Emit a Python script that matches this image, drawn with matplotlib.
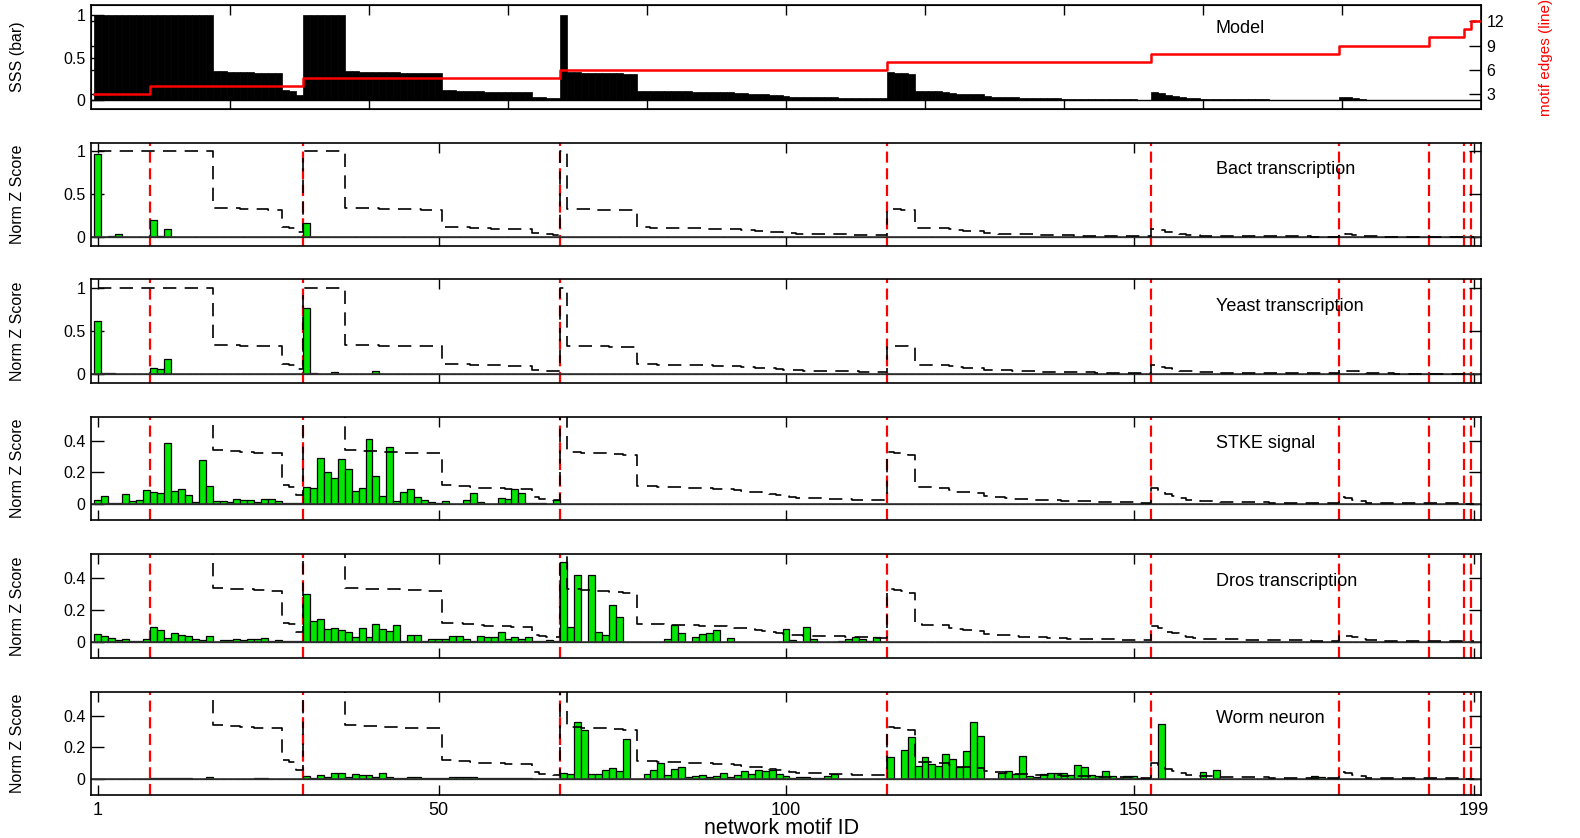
import matplotlib
matplotlib.use('Agg')
import matplotlib.pyplot as plt
from matplotlib import font_manager
import numpy as np

plt.rcParams['font.family'] = ['Liberation Sans', 'DejaVu Sans']
names = {f.name for f in font_manager.fontManager.ttflist}
narrow = 'Liberation Sans Narrow' if 'Liberation Sans Narrow' in names else 'Liberation Sans'

# ---- data ----
motif_ids = np.arange(1, 200)
edge_levels = [3, 4, 5, 6, 7, 8, 9, 10, 11, 12]
edge_counts = [8, 22, 37, 47, 38, 27, 13, 5, 1, 1]

# model SSS per motif
sss_model = ([1.0] * 17
             + [0.34, 0.34, 0.335, 0.335, 0.33, 0.33, 0.325, 0.325, 0.32, 0.32]
             + [0.12, 0.11, 0.06]
             + [1.0] * 6
             + [0.34, 0.34, 0.335, 0.335, 0.335, 0.33, 0.33, 0.33, 0.325, 0.325, 0.325, 0.32, 0.32, 0.32]
             + [0.12, 0.118, 0.116, 0.114, 0.11, 0.105, 0.102, 0.1, 0.1, 0.098, 0.096, 0.095, 0.093,
                0.045, 0.035, 0.033, 0.03]
             + [1.0]
             + [0.33, 0.33, 0.325, 0.325, 0.32, 0.32, 0.315, 0.315, 0.31, 0.31]
             + [0.115, 0.113, 0.112, 0.11, 0.108, 0.107, 0.106, 0.105, 0.104, 0.102, 0.1, 0.098,
                0.097, 0.095, 0.09, 0.085, 0.08, 0.075, 0.07, 0.065, 0.058, 0.05, 0.045, 0.042,
                0.04, 0.038, 0.037, 0.036, 0.035, 0.034, 0.032, 0.03, 0.029, 0.028, 0.027, 0.026]
             + [0.33, 0.325, 0.32, 0.31]
             + [0.11, 0.108, 0.106, 0.105, 0.104, 0.09, 0.08, 0.075, 0.073, 0.07, 0.05, 0.045,
                0.043, 0.042, 0.035, 0.033, 0.032, 0.03, 0.028, 0.026, 0.024, 0.022, 0.021, 0.02,
                0.019, 0.018, 0.017, 0.016, 0.015, 0.014, 0.013, 0.012, 0.011, 0.01]
             + [0.1, 0.085, 0.065, 0.055, 0.04, 0.03, 0.025, 0.02, 0.019, 0.018, 0.017, 0.016,
                0.015, 0.014, 0.013, 0.012, 0.012, 0.011, 0.011, 0.01, 0.01, 0.009, 0.009, 0.008,
                0.008, 0.008, 0.008]
             + [0.045, 0.04, 0.03, 0.02, 0.01, 0.009, 0.008, 0.007, 0.006, 0.006, 0.005, 0.005, 0.005]
             + [0.005] * 5
             + [0.003, 0.003])

bact = {1: 0.97, 3: 0.01, 4: 0.035, 9: 0.2, 10: 0.02, 11: 0.1, 31: 0.16}
yeast = {1: 0.62, 2: 0.01, 3: 0.015, 9: 0.07, 10: 0.06, 11: 0.17, 31: 0.76, 32: 0.01, 35: 0.02, 41: 0.04}

stke_1_67 = [0.03, 0.05, 0.01, 0.006, 0.066, 0.02, 0.028, 0.09, 0.08, 0.07, 0.385, 0.085, 0.093,
             0.057, 0.013, 0.28, 0.117, 0.02, 0.02, 0.015, 0.036, 0.025, 0.025, 0.017, 0.036,
             0.036, 0.023, 0.006, 0.006, 0.01,
             0.108, 0.104, 0.29, 0.2, 0.167, 0.284, 0.222, 0.085, 0.1, 0.413, 0.178, 0.049, 0.36,
             0.02, 0.076, 0.095, 0.045, 0.03, 0.013, 0.008, 0.02, 0, 0, 0.03, 0.07, 0.017, 0, 0,
             0.038, 0.034, 0.095, 0.068, 0.01, 0.01, 0.01, 0, 0.03]

dros_1_67 = [0.05, 0.035, 0.023, 0.012, 0.02, 0.003, 0.003, 0.015, 0.093, 0.076, 0.023, 0.054,
             0.041, 0.035, 0.019, 0.012, 0.035, 0, 0.012, 0.01, 0.02, 0.012, 0.019, 0.02, 0.027,
             0.008, 0.012, 0.006, 0.004, 0.004,
             0.3, 0.13, 0.144, 0.08, 0.089, 0.074, 0.06, 0.029, 0.085, 0.031, 0.113, 0.08, 0.068,
             0.105, 0.008, 0.041, 0.041, 0.008, 0.019, 0.019, 0.02, 0.035, 0.035, 0.02, 0.008,
             0.035, 0.031, 0.029, 0.06, 0.02, 0.033, 0.02, 0.031, 0.004, 0.004, 0.012, 0.008]
dros_68_114 = [0.5, 0.093, 0.42, 0, 0.42, 0.064, 0.041, 0.23, 0.159, 0, 0, 0, 0, 0, 0, 0.015,
               0.107, 0.054, 0, 0.029, 0.047, 0.058, 0.072, 0, 0.023, 0, 0, 0, 0, 0, 0, 0, 0.08,
               0.01, 0, 0.095, 0.019, 0, 0, 0, 0.008, 0.02, 0.029, 0.015, 0.008, 0.029, 0]

worm_1_67 = [0.004, 0.004, 0.003, 0.002, 0.004, 0.003, 0.002, 0.004, 0.006, 0.006, 0.006, 0.006,
             0.006, 0.006, 0.003, 0.004, 0.012, 0.004, 0.004, 0.004, 0.004, 0.004, 0.004, 0.006,
             0.006, 0.004, 0.004, 0.003, 0.003, 0.003,
             0.023, 0.01, 0.025, 0.015, 0.04, 0.04, 0.017, 0.036, 0.03, 0.027, 0.015, 0.04, 0.013,
             0.008, 0.01, 0.017, 0.015, 0.008, 0.008, 0.008, 0.005, 0.013, 0.017, 0.017, 0.013,
             0.01, 0.008, 0.008, 0.008, 0.008, 0.005, 0.005, 0.005, 0.004, 0.004, 0.004, 0.004]
worm_68_152 = [0.04, 0.036, 0.358, 0.31, 0.032, 0.032, 0.061, 0.072, 0.053, 0.25, 0, 0.002, 0.034,
               0.061, 0.1, 0.03, 0.067, 0.076, 0.015, 0.023, 0.03, 0.015, 0.021, 0.04, 0.015, 0.03,
               0.05, 0.036, 0.061, 0.05, 0.061, 0.036, 0.021, 0.01, 0.015, 0.015, 0.008, 0.006,
               0.019, 0.036, 0.002, 0.002, 0.002, 0.002, 0.002, 0.002, 0.002,
               0.137, 0, 0.183, 0.263, 0.082, 0.137, 0.093, 0.082, 0.156, 0.13, 0.074, 0.177, 0.362,
               0.27, 0, 0, 0.04, 0.053, 0.036, 0.145, 0.02, 0.015, 0.036, 0.042, 0.042, 0.042,
               0.025, 0.088, 0.074, 0.03, 0.019, 0.05, 0.019, 0.01, 0.021, 0.019, 0.008, 0.004]
worm_153_199 = {154: 0.345, 160: 0.046, 162: 0.057, 176: 0.02, 177: 0.015}

panel_names = ['Bact transcription', 'Yeast transcription', 'STKE signal',
               'Dros transcription', 'Worm neuron']


def from_dict(d):
    v = np.zeros(199)
    for k, val in d.items():
        v[k - 1] = val
    return v


def pad(vals, start=1):
    v = np.zeros(199)
    v[start - 1:start - 1 + len(vals)] = vals
    return v


sss = np.array(sss_model)
edges = np.repeat(edge_levels, edge_counts)
bounds = np.cumsum(edge_counts)[:-1] + 0.5

worm = pad(worm_1_67) + pad(worm_68_152, 68) + from_dict(worm_153_199)
series = [from_dict(bact), from_dict(yeast), pad(stke_1_67),
          pad(dros_1_67) + pad(dros_68_114, 68), worm]
ylims = [(-0.104, 1.096), (-0.104, 1.096), (-0.1, 0.55), (-0.1, 0.55), (-0.1, 0.55)]
yticks = [[0, 0.5, 1], [0, 0.5, 1], [0, 0.2, 0.4], [0, 0.2, 0.4], [0, 0.2, 0.4]]
yticklabels = [['0', '0.5', '1'], ['0', '0.5', '1'], ['0', '0.2', '0.4'],
               ['0', '0.2', '0.4'], ['0', '0.2', '0.4']]

# ---- figure ----
W, H = 1580, 838
fig = plt.figure(figsize=(W / 100, H / 100), dpi=100)
left = 91 / W
width = (1481 - 91) / W
tops = [5.3, 142.7, 279.5, 416.7, 554.3, 691.7]
h = 103.5


def make_ax(top):
    return fig.add_axes([left, 1 - (top + h) / H, width, h / H])


ylab_x = (25 - 91) / 1390
title_x = 161.8

# top panel: model
ax = make_ax(tops[0])
ax.bar(motif_ids, sss, width=1.0, color='black', edgecolor='black', linewidth=0.5, zorder=2)
ax.axhline(0, color='black', lw=1.0, zorder=3)
ax.set_xlim(0, 200)
ax.set_ylim(-0.097, 1.109)
ax.set_yticks([0, 0.5, 1])
ax.set_yticklabels(['0', '0.5', '1'], fontsize=11.5)
ax.set_xticks(range(20, 200, 20))
ax.tick_params(axis='x', direction='in', top=True, bottom=True, labelbottom=False, length=7, width=1)
ax.tick_params(axis='y', direction='in', right=True, length=9, width=1, pad=4)
ax.set_ylabel('SSS (bar)', fontsize=11.5, family=[narrow, 'DejaVu Sans'])
ax.yaxis.set_label_coords(ylab_x, 0.5)
for s in ax.spines.values():
    s.set_linewidth(1.2)
ax.text(title_x, 0.78, 'Model', fontsize=13, va='center', ha='left', transform=ax.get_xaxis_transform())

ax2 = ax.twinx()
ax2.plot(motif_ids, edges, drawstyle='steps-mid', color='red', lw=1.8, zorder=4)
ax2.plot([0.5, 1], [edges[0], edges[0]], color='red', lw=1.8)
ax2.plot([199, 200], [edges[-1], edges[-1]], color='red', lw=1.8)
ax2.set_ylim(1.24, 13.94)
ax2.set_yticks([3, 6, 9, 12])
ax2.set_yticklabels(['3', '6', '9', '12'], fontsize=11.5)
ax2.tick_params(axis='y', direction='in', left=True, length=9, width=1, pad=4)
fig.text(1546 / W, 1 - (tops[0] + h / 2) / H, 'motif edges (line)', color='red', fontsize=11,
         rotation=90, ha='center', va='center', family=[narrow, 'DejaVu Sans'])

# data panels
for i, vals in enumerate(series):
    ax = make_ax(tops[i + 1])
    for b in bounds:
        ax.axvline(b, color='red', lw=1.6, linestyle=(0, (5, 2.5)), zorder=1)
    ax.bar(motif_ids, vals, width=1.0, color='#00e600', edgecolor='black', linewidth=0.9, zorder=2)
    ax.plot(motif_ids, sss, drawstyle='steps-mid', color='black', lw=1.2,
            linestyle=(0, (8, 5)), zorder=3)
    ax.axhline(0, color='#333333', lw=1.2, zorder=2.5)
    ax.set_xlim(0, 200)
    ax.set_ylim(*ylims[i])
    ax.set_yticks(yticks[i])
    ax.set_yticklabels(yticklabels[i], fontsize=11.5)
    ax.set_xticks([1, 50, 100, 150, 199])
    last = i == len(series) - 1
    ax.tick_params(axis='x', direction='in', top=True, bottom=True, length=7, width=1,
                   labelbottom=last, labelsize=13, pad=5)
    ax.tick_params(axis='y', direction='in', right=True, length=9, width=1, pad=4)
    ax.set_ylabel('Norm Z Score', fontsize=11.5, family=[narrow, 'DejaVu Sans'])
    ax.yaxis.set_label_coords(ylab_x, 0.5)
    for s in ax.spines.values():
        s.set_linewidth(1.2)
    ax.text(title_x, 0.74, panel_names[i], fontsize=13, va='center', ha='left',
            transform=ax.get_xaxis_transform())

fig.text((91 + 1390 * 0.5 * 198 / 200 + 3) / W, 1 - 828 / H, 'network motif ID',
         fontsize=15.5, ha='center', va='center')

fig.savefig('out.png', dpi=100)
